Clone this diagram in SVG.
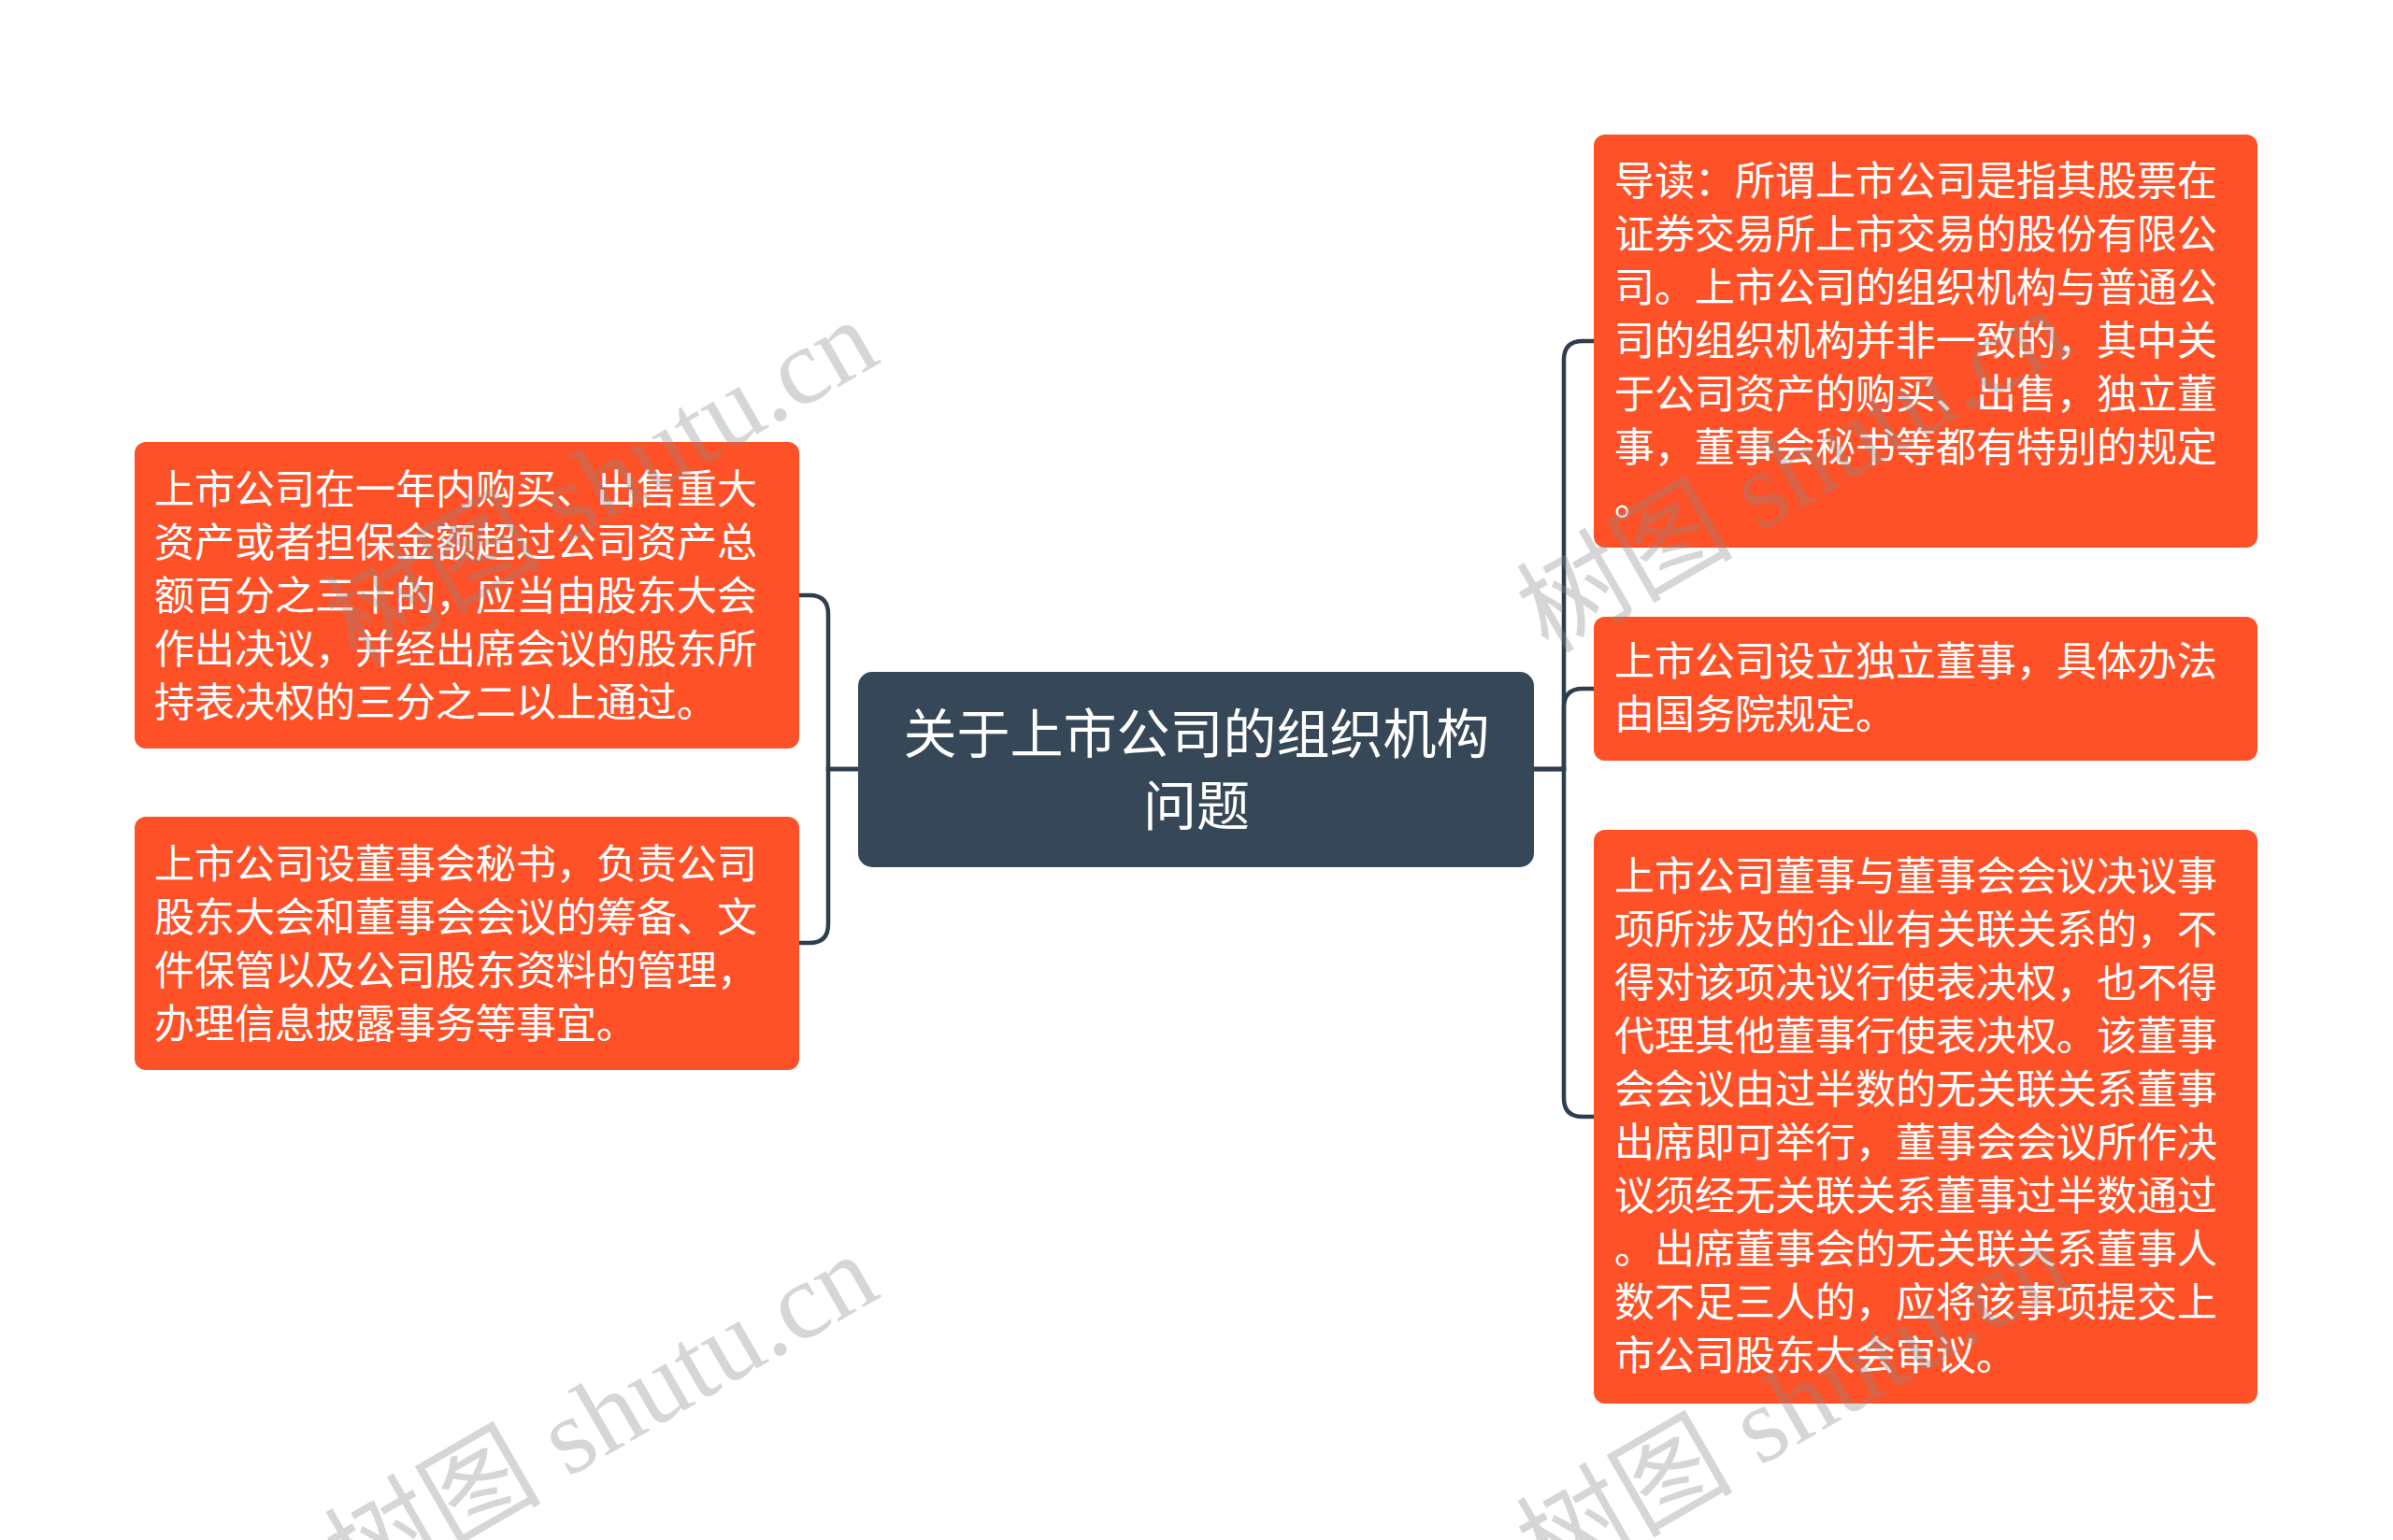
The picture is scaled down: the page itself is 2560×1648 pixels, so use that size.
<svg xmlns="http://www.w3.org/2000/svg" width="2560" height="1648" viewBox="0 0 2560 1648">
<style>
.leaf{fill:#FE5128;}
.root{fill:#364858;}
.t{font-family:"Noto Sans CJK SC","Noto Sans",sans-serif;font-size:43px;fill:#ffffff;}
.rt{font-family:"Noto Sans CJK SC","Noto Sans",sans-serif;font-size:57px;fill:#ffffff;text-anchor:middle;}
.edge{fill:none;stroke:#2E3E4D;stroke-width:4.5;}
.wm{font-family:"Liberation Serif","Noto Sans CJK SC",serif;font-size:116px;fill:#8a8a8a;opacity:0.34;}
</style>
<rect width="2560" height="1648" fill="#ffffff"/>
<g id="connectors">
<path class="edge" d="M918,823 H886 V657 Q886,637 866,637 H854"/>
<path class="edge" d="M918,823 H886 V989 Q886,1009 866,1009 H854"/>
<path class="edge" d="M1641,823 H1673 V385 Q1673,365 1693,365 H1705"/>
<path class="edge" d="M1641,823 H1673 V757 Q1673,737 1693,737 H1705"/>
<path class="edge" d="M1641,823 H1673 V1175 Q1673,1195 1693,1195 H1705"/>
</g>
<g id="root">
<rect class="root" x="918" y="719" width="723" height="209" rx="15"/>
<text class="rt" x="1280" y="806">关于上市公司的组织机构</text>
<text class="rt" x="1280" y="883">问题</text>
</g>
<g id="left1">
<rect class="leaf" x="144" y="473" width="711" height="328" rx="12"/>
<text class="t" x="165" y="539">上市公司在一年内购买、出售重大</text>
<text class="t" x="165" y="596">资产或者担保金额超过公司资产总</text>
<text class="t" x="165" y="653">额百分之三十的，应当由股东大会</text>
<text class="t" x="165" y="710">作出决议，并经出席会议的股东所</text>
<text class="t" x="165" y="767">持表决权的三分之二以上通过。</text>
</g>
<g id="left2">
<rect class="leaf" x="144" y="874" width="711" height="271" rx="12"/>
<text class="t" x="165" y="940">上市公司设董事会秘书，负责公司</text>
<text class="t" x="165" y="997">股东大会和董事会会议的筹备、文</text>
<text class="t" x="165" y="1054">件保管以及公司股东资料的管理，</text>
<text class="t" x="165" y="1111">办理信息披露事务等事宜。</text>
</g>
<g id="right1">
<rect class="leaf" x="1705" y="144" width="710" height="442" rx="12"/>
<text class="t" x="1727" y="209">导读：所谓上市公司是指其股票在</text>
<text class="t" x="1727" y="266">证券交易所上市交易的股份有限公</text>
<text class="t" x="1727" y="323">司。上市公司的组织机构与普通公</text>
<text class="t" x="1727" y="380">司的组织机构并非一致的，其中关</text>
<text class="t" x="1727" y="437">于公司资产的购买、出售，独立董</text>
<text class="t" x="1727" y="494">事，董事会秘书等都有特别的规定</text>
<text class="t" x="1727" y="551">。</text>
</g>
<g id="right2">
<rect class="leaf" x="1705" y="660" width="710" height="154" rx="12"/>
<text class="t" x="1727" y="723">上市公司设立独立董事，具体办法</text>
<text class="t" x="1727" y="780">由国务院规定。</text>
</g>
<g id="right3">
<rect class="leaf" x="1705" y="888" width="710" height="614" rx="12"/>
<text class="t" x="1727" y="953">上市公司董事与董事会会议决议事</text>
<text class="t" x="1727" y="1010">项所涉及的企业有关联关系的，不</text>
<text class="t" x="1727" y="1067">得对该项决议行使表决权，也不得</text>
<text class="t" x="1727" y="1124">代理其他董事行使表决权。该董事</text>
<text class="t" x="1727" y="1181">会会议由过半数的无关联关系董事</text>
<text class="t" x="1727" y="1238">出席即可举行，董事会会议所作决</text>
<text class="t" x="1727" y="1295">议须经无关联关系董事过半数通过</text>
<text class="t" x="1727" y="1352">。出席董事会的无关联关系董事人</text>
<text class="t" x="1727" y="1409">数不足三人的，应将该事项提交上</text>
<text class="t" x="1727" y="1466">市公司股东大会审议。</text>
</g>
<g id="watermarks">
<text class="wm" transform="translate(381,712) rotate(-30)">树图 shutu.cn</text>
<text class="wm" transform="translate(381,1712) rotate(-30)">树图 shutu.cn</text>
<text class="wm" transform="translate(1656,700) rotate(-30)">树图 shutu.cn</text>
<text class="wm" transform="translate(1656,1700) rotate(-30)">树图 shutu.cn</text>
</g>
</svg>
